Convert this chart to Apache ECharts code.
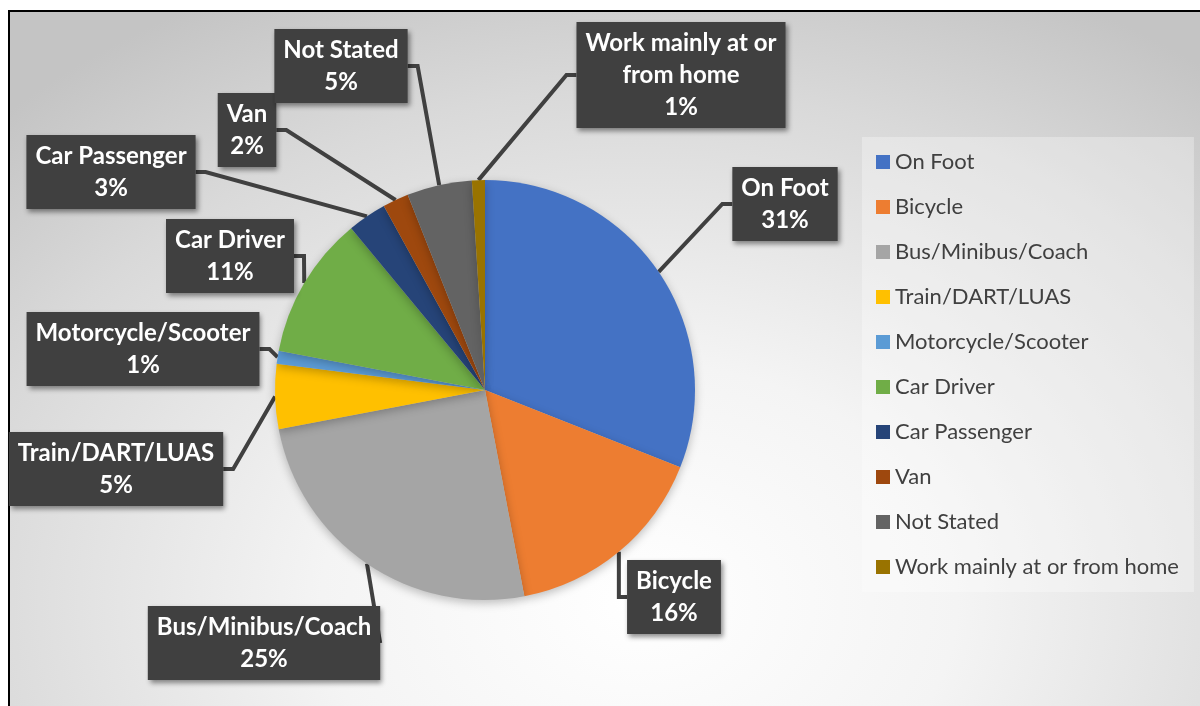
<!DOCTYPE html>
<html>
<head>
<meta charset="utf-8">
<script src="https://cdn.jsdelivr.net/npm/echarts@6/dist/echarts.min.js"></script>
<style>
html,body{margin:0;padding:0;width:1200px;height:706px;overflow:hidden;background:#fff;}
#frame{position:absolute;left:8px;top:10px;width:1210px;height:720px;border:2px solid #000;
  background:radial-gradient(ellipse 75% 95% at 52% 82%, #ffffff 0%, #f4f4f4 35%, #d9d9d9 75%, #c4c4c4 100%);}
#chart{position:absolute;left:0;top:0;width:1200px;height:706px;}
</style>
</head>
<body>
<div id="frame"></div>
<div id="chart"></div>
<script>
// ---- data ----
const categories = ['On Foot','Bicycle','Bus/Minibus/Coach','Train/DART/LUAS','Motorcycle/Scooter','Car Driver','Car Passenger','Van','Not Stated','Work mainly at or from home'];
const values = [31, 16, 25, 5, 1, 11, 3, 2, 5, 1];
const labelTexts = ['On Foot','Bicycle','Bus/Minibus/Coach','Train/DART/LUAS','Motorcycle/Scooter','Car Driver','Car Passenger','Van','Not Stated','Work mainly at or\nfrom home'];

// ---- styling / layout config ----
const colors = ['#4472C4','#ED7D31','#A5A5A5','#FFC000','#5B9BD5','#70AD47','#264478','#9E480E','#636363','#997300'];
const labelCenters = [[785,204],[674,597],[264,643],[116,469],[143,349],[230,256],[111,172],[247,130],[341,66],[681,75]];

const chart = echarts.init(document.getElementById('chart'), null, {renderer:'canvas'});
const option = {
  backgroundColor: 'transparent',
  color: colors,
  legend: {
    orient: 'vertical',
    left: 862, top: 137,
    padding: [14, 15, 14, 14],
    backgroundColor: 'rgba(255,255,255,0.3)',
    itemWidth: 14, itemHeight: 14,
    itemGap: 23,
    icon: 'rect',
    textStyle: {fontFamily: 'Lato', fontSize: 22, color: '#404040', lineHeight: 22},
    data: categories
  },
  series: [{
    type: 'pie',
    center: [485, 390],
    radius: 210,
    startAngle: 90,
    clockwise: true,
    avoidLabelOverlap: false,
    animation: false,
    data: categories.map((c, i) => ({name: c, value: values[i]})),
    itemStyle: {shadowBlur: 10, shadowColor: 'rgba(0,0,0,0.25)', shadowOffsetY: 3},
    label: {
      show: true,
      position: 'outside',
      formatter: p => labelTexts[p.dataIndex] + '\n' + Math.round(p.percent) + '%',
      color: '#ffffff',
      fontFamily: 'Lato',
      fontWeight: 'bold',
      fontSize: 24,
      lineHeight: 32,
      align: 'center',
      backgroundColor: '#404040',
      padding: [5, 9, 5, 9],
      shadowColor: 'rgba(0,0,0,0.45)',
      shadowBlur: 5,
      shadowOffsetX: 2,
      shadowOffsetY: 3,
      textShadowColor: 'transparent'
    },
    labelLine: {
      show: true,
      length: 20,
      length2: 10,
      smooth: false,
      lineStyle: {color: '#404040', width: 4}
    },
    labelLayout: function (p) {
      const c = labelCenters[p.dataIndex];
      return {x: c[0], y: c[1], align: 'center', verticalAlign: 'middle'};
    }
  }]
};
chart.setOption(option);
</script>
</body>
</html>
